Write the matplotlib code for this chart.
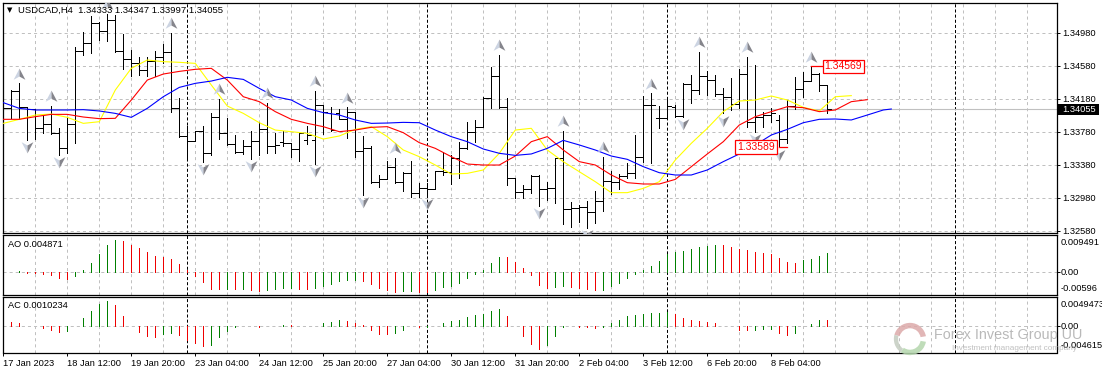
import numpy as np
import matplotlib
matplotlib.use('Agg')
import matplotlib.pyplot as plt
from matplotlib.path import Path
from matplotlib.patches import Wedge, Rectangle

plt.rcParams['font.family'] = ['Liberation Sans', 'DejaVu Sans']
plt.rcParams['lines.scale_dashes'] = False

W, H = 1102, 373
FS = 6.7

# ohlc, in points (1e-5)
highs = [134223,134283,134364,134073,134041,133968,134089,133819,133952,134808,
         134990,135180,135111,135204,135192,134962,134768,134679,134679,134756,
         134841,134978,134182,133847,133790,133847,134000,134174,133944,133738,
         133677,133790,133899,134130,133758,133790,133637,133770,133847,134271,
         134097,134073,134057,134073,134021,133726,133609,133253,133423,133463,
         133285,133423,133160,133160,133306,133528,133495,133649,133891,133920,
         134194,134558,134707,134182,133213,133132,133253,133253,133172,133455,
         133786,132930,132889,132938,133059,133475,133306,133261,133403,133738,
         134211,134243,134089,134190,134101,134364,134465,134748,134514,134465,
         134303,134425,134538,134687,134586,134021,134061,133980,134162,134437,
         134505,134569,134485,134344]
lows = [133920,133940,133928,133677,133689,133766,133746,133495,133524,133645,
        134707,134736,134889,134881,134748,134534,134453,134465,134453,134453,
        134606,134021,133718,133435,133661,133411,133495,133693,133617,133516,
        133508,133447,133495,133524,133524,133609,133475,133427,133629,133386,
        133750,133790,133928,133697,133475,133011,133160,133112,133200,133152,
        133063,132990,132990,132990,133079,133253,133144,133213,133564,133649,
        133831,134061,134061,133128,132978,132978,133039,132877,132950,132910,
        132659,132627,132687,132611,132667,132821,133023,133087,133213,133221,
        133415,133403,133827,133940,133960,133960,134122,134235,134223,134211,
        134000,134041,134061,133831,133778,133839,133899,133589,133645,134049,
        134202,134396,134275,134000]
opens = [133980,134061,134275,134081,134053,133819,133871,133766,133576,133871,
         134760,134849,135091,134998,135132,134760,134655,134606,134526,134635,
         134687,134740,134061,133726,133669,133782,133516,133952,133758,133629,
         133536,133609,133669,133806,133604,133657,133637,133568,133677,133677,
         134097,134000,134000,133928,134021,133548,133576,133164,133200,133354,
         133172,133273,133031,133091,133083,133306,133293,133455,133576,133778,
         133839,134190,134457,134081,133213,133047,133079,133245,133079,133091,
         133455,132837,132849,132869,132805,132934,133180,133172,133241,133273,
         133475,134101,133940,133940,134081,133972,134356,134283,134453,134404,
         134231,134202,134114,134477,133899,133960,133980,133920,133689,134093,
         134295,134396,134477,134344]
closes = [134061,134275,134081,134053,133819,133871,133758,133576,133871,134760,
          134849,135091,134998,135132,134760,134655,134606,134526,134635,134687,
          134740,134061,133726,133669,133782,133516,133952,133758,133629,133536,
          133609,133669,133806,133604,133617,133637,133568,133758,133738,134097,
          134021,133798,133928,134021,133548,133576,133164,133200,133354,133172,
          133273,133031,133091,133083,133306,133293,133455,133576,133778,133839,
          134190,134457,134081,133213,133047,133079,133245,133079,133091,133455,
          132837,132849,132869,132805,132934,133180,133172,133241,133273,133475,
          134101,134101,133940,134089,133972,134356,134283,134453,134404,134231,
          134202,134114,134477,133899,133960,133980,134009,133689,134093,134295,
          134396,134477,134344,134055]

# alligator-like averages, read every second bar
yellow = [133879,133928,133980,133992,133952,133879,133899,134283,134546,134647,134627,134619,134606,134344,
          134089,134000,133887,133798,133778,133758,133689,133726,133806,133839,133718,133556,133475,133374,
          133265,133273,133314,133516,133798,133819,133556,133415,133293,133172,133039,133039,133091,133172,
          133435,133637,133819,134021,134150,134162,134211,134162,134073,134029,134202,134215]
red = [133928,133928,133960,133988,133988,133956,133936,133940,134162,134404,134477,134509,134534,134546,
       134404,134202,134142,134021,133928,133879,133839,133778,133798,133831,133839,133766,133645,133576,
       133475,133386,133374,133374,133483,133657,133718,133556,133415,133374,133253,133160,133144,133144,
       133200,133354,133508,133657,133859,133960,134021,134081,134069,134021,134041,134142,134166]
blue = [134130,134061,134041,134041,134041,134045,134029,134000,133952,134061,134202,134315,134364,134392,
        134437,134412,134303,134202,134162,134061,134009,133980,133920,133879,133883,133891,133887,133798,
        133718,133657,133568,133516,133491,133508,133576,133673,133617,133556,133483,133443,133354,133281,
        133253,133253,133314,133415,133508,133617,133738,133806,133887,133928,133932,133920,133980,134041,134053]
blue_x = list(range(0, 112, 2)) + [111]

up_fractals = [2, 6, 13, 21, 27, 33, 39, 43, 49, 62, 70, 75, 81, 87, 93, 101]
down_fractals = [3, 7, 25, 31, 39, 45, 53, 67, 73, 85, 90, 94, 97]

ao = [.00002,.00008,.00025,-.00017,-.00018,-.00034,-.00059,-.00136,-.00169,-.00085,
      .00059,.00237,.00466,.00695,.00822,.00796,.00695,.00618,.00517,.00415,
      .00390,.00339,.00212,.00059,-.00085,-.00254,-.00424,-.00428,-.00424,-.00426,
      -.00423,-.00449,-.00474,-.00440,-.00437,-.00398,-.00395,-.00424,-.00426,-.00398,
      -.00356,-.00296,-.00229,-.00195,-.00186,-.00212,-.00296,-.00398,-.00449,-.00491,
      -.00488,-.00483,-.00491,-.00508,-.00440,-.00373,-.00356,-.00271,-.00144,-.00034,
      .00059,.00246,.00398,.00397,.00271,.00119,-.00076,-.00313,-.00390,-.00364,
      -.00339,-.00373,-.00390,-.00424,-.00449,-.00440,-.00347,-.00263,-.00136,-.00034,
      .00051,.00169,.00296,.00466,.00525,.00551,.00601,.00652,.00678,.00703,
      .00702,.00652,.00601,.00567,.00525,.00500,.00474,.00373,.00263,.00237,
      .00305,.00347,.00424,.004871]
ac = [.00075,.00074,.00058,.00006,.00000,-.00040,-.00058,-.00092,-.00075,-.00006,
      .00144,.00265,.00368,.00420,.00351,.00178,-.00006,-.00092,-.00161,-.00178,
      -.00132,-.00109,-.00144,-.00242,-.00288,-.00334,-.00316,-.00178,-.00075,-.00023,
      .00000,-.00006,-.00012,-.00006,.00000,.00017,.00016,.00006,.00000,.00006,
      .00046,.00075,.00109,.00092,.00058,.00012,-.00058,-.00127,-.00128,-.00109,
      -.00058,-.00006,-.00023,-.00012,.00006,.00058,.00086,.00109,.00161,.00196,
      .00213,.00265,.00299,.00178,.00000,-.00161,-.00299,-.00385,-.00316,-.00161,
      -.00023,-.00006,-.00007,-.00017,-.00040,-.00023,.00058,.00109,.00178,.00196,
      .00213,.00230,.00231,.00247,.00213,.00144,.00109,.00092,.00075,.00058,
      .00006,.00000,-.00058,-.00059,-.00058,-.00057,-.00056,-.00109,-.00144,-.00109,
      -.00006,.00040,.00108,.0010234]

price_ticks = [1.34980, 1.34580, 1.34180, 1.33780, 1.33380, 1.32980, 1.32580]
time_labels = ['17 Jan 2023', '18 Jan 12:00', '19 Jan 20:00', '23 Jan 04:00', '24 Jan 12:00',
               '25 Jan 20:00', '27 Jan 04:00', '30 Jan 12:00', '31 Jan 20:00', '2 Feb 04:00',
               '3 Feb 12:00', '6 Feb 20:00', '8 Feb 04:00']
week_seps = [23, 53, 83, 119]

highs, lows = np.array(highs) / 1e5, np.array(lows) / 1e5
opens, closes = np.array(opens) / 1e5, np.array(closes) / 1e5
x = np.arange(len(highs))

LEFT, RIGHT = 2.5, 1056.7
PX = 0.72
GRID = dict(color='#c0c0c0', lw=PX, linestyle=(0, (2.2, 2.2)))
SEP = dict(color='black', lw=PX, linestyle=(0, (2.2, 1.5)))
XLIM = ((LEFT - 3.3) / 8, (RIGHT - 3.3) / 8)


def panel(top, bottom):
    ax = fig.add_axes([LEFT / W, 1 - bottom / H, (RIGHT - LEFT) / W, (bottom - top) / H])
    ax.set_xlim(*XLIM)
    for s in ax.spines.values():
        s.set_linewidth(0.9)
    ax.set_xticks(np.arange(4, 129, 4), minor=True)
    ax.set_xticks([])
    ax.tick_params(which='minor', length=0)
    ax.xaxis.grid(True, which='minor', **GRID)
    ax.yaxis.tick_right()
    ax.tick_params(axis='y', length=2.5, width=0.7, pad=1.5, labelsize=FS)
    ax.set_axisbelow(True)
    for s in week_seps:
        ax.axvline(s, zorder=1, **SEP)
    return ax


fig = plt.figure(figsize=(W / 100, H / 100), dpi=100, facecolor='white')

# price panel
ax = panel(2.5, 233)
ax.set_ylim(1.32550, 1.35344)
ax.set_yticks(price_ticks, [f'{p:.5f}' for p in price_ticks])
ax.yaxis.grid(True, **GRID)
ax.axhline(closes[-1], color='#c0c0c0', lw=0.8, zorder=1)

ax.vlines(x, lows, highs, color='black', lw=PX, zorder=2, antialiased=False)
ax.hlines(opens, x - 0.4, x, color='black', lw=PX, zorder=2, antialiased=False)
ax.hlines(closes, x, x + 0.4, color='black', lw=PX, zorder=2, antialiased=False)

ax.plot(np.arange(0, 2 * len(yellow), 2), np.array(yellow) / 1e5, color='#ffff00', lw=0.8, zorder=3)
ax.plot(np.arange(0, 2 * len(red), 2), np.array(red) / 1e5, color='#ff0000', lw=0.8, zorder=3)
ax.plot(blue_x, np.array(blue) / 1e5, color='#0000ff', lw=0.8, zorder=3)

# fractal arrows, light left half and dark right half
up_l = Path([(0, 1), (-1, -0.9), (0, -0.35), (0, 1)], closed=True)
up_r = Path([(0, 1), (1, -0.9), (0, -0.35), (0, 1)], closed=True)
dn_l = Path([(0, -1), (-1, 0.9), (0, 0.35), (0, -1)], closed=True)
dn_r = Path([(0, -1), (1, 0.9), (0, 0.35), (0, -1)], closed=True)
for mk, col in [(up_l, '#ccd4e2'), (up_r, '#85858c')]:
    ax.scatter(up_fractals, highs[up_fractals] + 0.00117, marker=mk, s=72, c=col, linewidths=0, zorder=4)
for mk, col in [(dn_l, '#ccd4e2'), (dn_r, '#85858c')]:
    ax.scatter(down_fractals, lows[down_fractals] - 0.00089, marker=mk, s=72, c=col, linewidths=0, zorder=4)

# high / low labels
ax.plot([101, 103], [highs[101]] * 2, color='#ff0000', lw=0.9, zorder=5)
ax.plot([97, 98], [lows[97]] * 2, color='#ff0000', lw=0.9, zorder=5)
BOX = dict(boxstyle='square,pad=0.18', fc='white', ec='#ff0000', lw=0.9)
ax.text(105, highs[101], f'{highs[101]:.5f}', color='#ff0000', fontsize=FS + 0.8, ha='center', va='center',
        bbox=BOX, zorder=6)
ax.text(94.1, lows[97], f'{lows[97]:.5f}', color='#ff0000', fontsize=FS + 0.8, ha='center', va='center',
        bbox=BOX, zorder=6)

# AO panel
ao_ax = panel(235, 295.3)
ao_ax.set_ylim(-0.00585, 0.009491)
ao_ax.set_yticks([0], [''])
ao_ax.yaxis.grid(True, **GRID)
ao_col = ['#007f00' if i == 0 or ao[i] > ao[i - 1] else '#ee0000' for i in x]
ao_ax.vlines(x, 0, ao, colors=ao_col, lw=PX, zorder=2, antialiased=False)

# AC panel
ac_ax = panel(297, 352.5)
ac_ax.set_ylim(-0.00449, 0.0049473)
ac_ax.set_yticks([0], [''])
ac_ax.yaxis.grid(True, **GRID)
ac_col = ['#007f00' if i == 0 or ac[i] > ac[i - 1] else '#ee0000' for i in x]
ac_ax.vlines(x, 0, ac, colors=ac_col, lw=PX, zorder=2, antialiased=False)
ac_ax.set_xticks(np.arange(0, 8 * len(time_labels), 8), time_labels, fontsize=FS, ha='left')
ac_ax.tick_params(axis='x', which='major', length=2.5, width=0.7, pad=2.5)


def txt(px, py, s, **kw):
    kw.setdefault('fontsize', FS)
    kw.setdefault('va', 'center')
    fig.text(px / W, 1 - py / H, s, **kw)


# header and panel names
txt(10, 10.5, '▼', fontsize=5, ha='center', family='DejaVu Sans')
txt(18, 10.5, 'USDCAD,H4  1.34333 1.34347 1.33997 1.34055', fontsize=FS + 0.1)
txt(7.5, 244.5, 'AO 0.004871')
txt(7.5, 306, 'AC 0.0010234')

# value labels right of the oscillators
txt(1060.5, 242.3, '0.009491')
txt(1060.5, 272.3, '0.00')
txt(1060.5, 288.7, '-0.00596')
txt(1060.5, 304.3, '0.0049473')
txt(1060.5, 326.3, '0.00')
txt(1060.5, 345.7, '-0.004615')

# bid price tag
fig.add_artist(Rectangle((1058 / W, 1 - 115 / H), 41 / W, 10.7 / H, transform=fig.transFigure,
                         fc='black', ec='none', zorder=7))
txt(1062.3, 109.5, '1.34055', color='white', zorder=8)

# watermark
logo = fig.add_axes([893 / W, 1 - 356 / H, 34 / W, 34 / H])
logo.set_xlim(-1, 1); logo.set_ylim(-1, 1); logo.axis('off'); logo.patch.set_alpha(0)
logo.add_patch(Wedge((0, 0), 0.95, 10, 165, width=0.32, fc='#dca9a9', ec='none', alpha=0.85))
logo.add_patch(Wedge((0, 0), 0.95, 165, 235, width=0.25, fc='#c4ccc0', ec='none', alpha=0.85))
logo.add_patch(Wedge((0, 0), 0.95, 235, 350, width=0.32, fc='#b4d6ad', ec='none', alpha=0.85))
txt(934, 335, 'Forex Invest Group UU', fontsize=10.4, color='#a8a8a8', alpha=0.8, zorder=8)
txt(952, 348, 'Investment management company', fontsize=5.9, color='#b0b0b0', alpha=0.8, zorder=8)

fig.savefig('out.png', dpi=100, facecolor='white')
